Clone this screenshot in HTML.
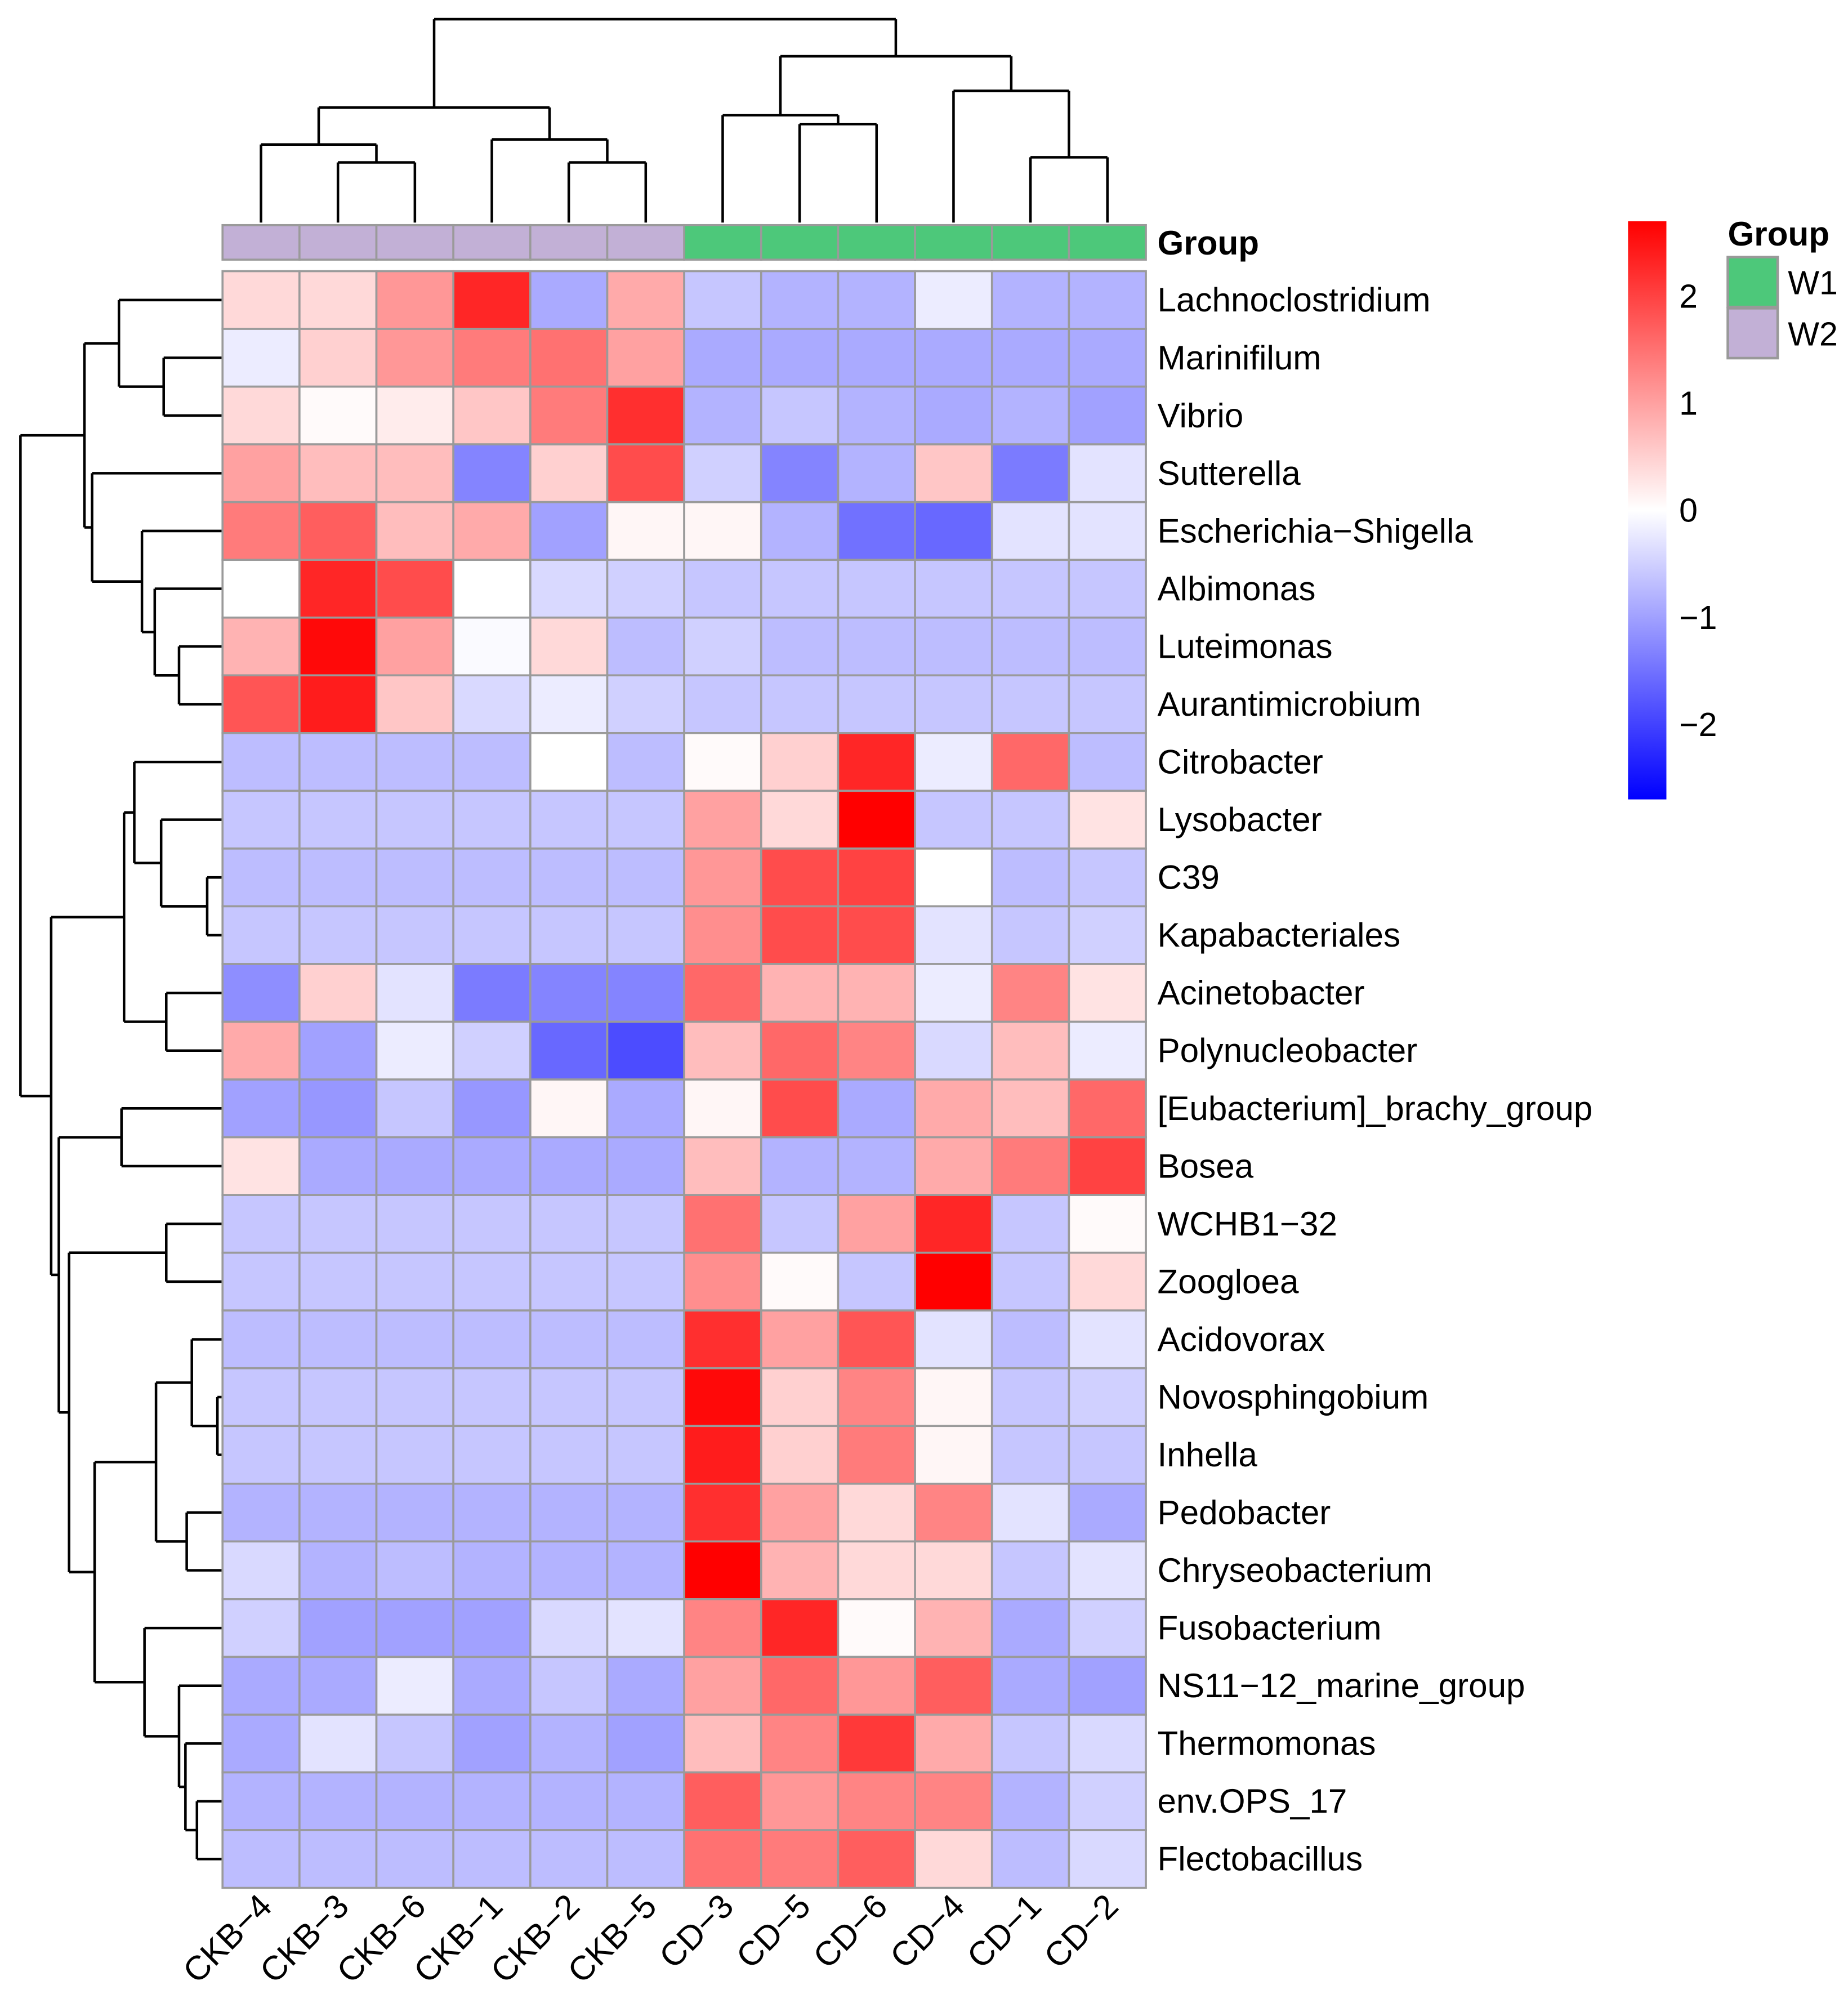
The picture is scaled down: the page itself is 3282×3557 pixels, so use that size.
<!DOCTYPE html>
<html><head><meta charset="utf-8"><style>
html,body{margin:0;padding:0;background:#fff;}
svg{display:block;}
text{font-family:"Liberation Sans",Arial,sans-serif;}
</style></head><body>
<svg id="chart" width="3282" height="3557" viewBox="0 0 1445 1566" preserveAspectRatio="none" xmlns="http://www.w3.org/2000/svg">
<rect x="0" y="0" width="1445" height="1566" fill="#fff"/>
<g id="dendro" stroke="#000" stroke-width="2" fill="none"></g>
<g id="cells"></g>
<g id="annot"></g>
<g id="rowlabels"></g>
<g id="collabels"></g>
<text x="905" y="199" font-size="26.5" font-weight="bold">Group</text>
<defs><linearGradient id="cb" x1="0" y1="1" x2="0" y2="0">
<stop offset="0" stop-color="#0000ff"/><stop offset="0.5" stop-color="#ffffff"/><stop offset="1" stop-color="#ff0000"/></linearGradient></defs>
<rect x="1273" y="173" width="30" height="452" fill="url(#cb)"/>
<g id="cbticks"></g>
<g>
<text x="1351" y="192" font-size="26.5" font-weight="bold">Group</text>
<rect x="1351" y="201" width="39" height="39" fill="#4DC87A" stroke="#999" stroke-width="2"/>
<text x="1398" y="230" font-size="26">W1</text>
<rect x="1351" y="241" width="39" height="39" fill="#C2B0D6" stroke="#999" stroke-width="2"/>
<text x="1398" y="270" font-size="26">W2</text>
</g>
</svg>
<script>
const columns = ["CKB−4","CKB−3","CKB−6","CKB−1","CKB−2","CKB−5","CD−3","CD−5","CD−6","CD−4","CD−1","CD−2"];
const groups = ["W2","W2","W2","W2","W2","W2","W1","W1","W1","W1","W1","W1"];
const rows = ["Lachnoclostridium","Marinifilum","Vibrio","Sutterella","Escherichia−Shigella","Albimonas","Luteimonas","Aurantimicrobium","Citrobacter","Lysobacter","C39","Kapabacteriales","Acinetobacter","Polynucleobacter","[Eubacterium]_brachy_group","Bosea","WCHB1−32","Zoogloea","Acidovorax","Novosphingobium","Inhella","Pedobacter","Chryseobacterium","Fusobacterium","NS11−12_marine_group","Thermomonas","env.OPS_17","Flectobacillus"];
const values = [
[0.4,0.4,1.1,2.3,-0.9,0.9,-0.6,-0.8,-0.8,-0.2,-0.8,-0.8],
[-0.2,0.5,1.1,1.4,1.5,1.0,-0.9,-0.9,-0.9,-0.9,-0.9,-0.9],
[0.4,0.05,0.2,0.6,1.4,2.2,-0.8,-0.6,-0.8,-0.9,-0.8,-1.0],
[1.0,0.7,0.7,-1.3,0.5,1.9,-0.5,-1.3,-0.8,0.6,-1.4,-0.3],
[1.4,1.7,0.7,0.9,-1.0,0.1,0.1,-0.8,-1.5,-1.6,-0.3,-0.3],
[0.0,2.3,1.9,0.0,-0.4,-0.5,-0.6,-0.6,-0.6,-0.6,-0.6,-0.6],
[0.8,2.6,1.0,-0.05,0.4,-0.7,-0.5,-0.7,-0.7,-0.7,-0.7,-0.7],
[1.8,2.4,0.6,-0.4,-0.2,-0.5,-0.6,-0.6,-0.6,-0.6,-0.6,-0.6],
[-0.7,-0.7,-0.7,-0.7,0.0,-0.7,0.05,0.5,2.3,-0.2,1.6,-0.7],
[-0.6,-0.6,-0.6,-0.6,-0.6,-0.6,1.0,0.4,2.7,-0.6,-0.6,0.3],
[-0.7,-0.7,-0.7,-0.7,-0.7,-0.7,1.1,1.9,2.0,0.0,-0.7,-0.6],
[-0.6,-0.6,-0.6,-0.6,-0.6,-0.6,1.2,1.9,1.9,-0.3,-0.6,-0.5],
[-1.2,0.5,-0.3,-1.4,-1.3,-1.3,1.6,0.8,0.8,-0.2,1.3,0.3],
[0.9,-1.0,-0.2,-0.5,-1.6,-1.9,0.7,1.6,1.3,-0.4,0.7,-0.2],
[-1.0,-1.1,-0.6,-1.1,0.1,-0.9,0.1,1.9,-0.9,0.9,0.7,1.6],
[0.3,-0.9,-0.9,-0.9,-0.9,-0.9,0.7,-0.8,-0.8,0.9,1.4,2.0],
[-0.6,-0.6,-0.6,-0.6,-0.6,-0.6,1.5,-0.6,1.0,2.3,-0.6,0.05],
[-0.6,-0.6,-0.6,-0.6,-0.6,-0.6,1.2,0.05,-0.6,2.7,-0.6,0.4],
[-0.7,-0.7,-0.7,-0.7,-0.7,-0.7,2.2,1.0,1.8,-0.3,-0.7,-0.3],
[-0.6,-0.6,-0.6,-0.6,-0.6,-0.6,2.6,0.5,1.3,0.1,-0.6,-0.5],
[-0.6,-0.6,-0.6,-0.6,-0.6,-0.6,2.4,0.5,1.4,0.1,-0.6,-0.6],
[-0.8,-0.8,-0.8,-0.8,-0.8,-0.8,2.2,1.0,0.4,1.3,-0.3,-0.9],
[-0.4,-0.8,-0.7,-0.8,-0.8,-0.8,2.7,0.8,0.4,0.4,-0.6,-0.3],
[-0.5,-1.0,-1.0,-1.0,-0.4,-0.3,1.3,2.3,0.05,0.8,-0.9,-0.5],
[-0.9,-0.9,-0.2,-0.9,-0.6,-0.9,1.0,1.6,1.1,1.7,-0.9,-1.0],
[-0.9,-0.3,-0.6,-1.0,-0.8,-1.0,0.7,1.3,2.1,0.9,-0.6,-0.4],
[-0.8,-0.8,-0.8,-0.8,-0.8,-0.8,1.7,1.1,1.3,1.3,-0.8,-0.5],
[-0.7,-0.7,-0.7,-0.7,-0.7,-0.7,1.5,1.4,1.7,0.4,-0.7,-0.4]];
const scaleTicks = [2,1,0,-1,-2];
// dendrogram merge heights (linkage distance units)
const colTree = {h:159,c:[{h:90,c:[{h:61,c:[0,{h:47,c:[1,2]}]},{h:65,c:[3,{h:47,c:[4,5]}]}]},{h:130,c:[{h:84,c:[6,{h:77,c:[7,8]}]},{h:103,c:[9,{h:51,c:[10,11]}]}]}]};
const rowTree = {h:158,c:[
 {h:108,c:[{h:81,c:[0,{h:46,c:[1,2]}]},{h:102,c:[3,{h:63,c:[4,{h:53,c:[5,{h:34,c:[6,7]}]}]}]}]},
 {h:134,c:[
  {h:77,c:[{h:69,c:[8,{h:48,c:[9,{h:12,c:[10,11]}]}]},{h:44,c:[12,13]}]},
  {h:128,c:[{h:79,c:[14,15]},{h:120,c:[{h:44,c:[16,17]},{h:100,c:[
     {h:52,c:[{h:24,c:[18,{h:4,c:[19,20]}]},{h:28,c:[21,22]}]},
     {h:61,c:[23,{h:34,c:[24,{h:29,c:[25,{h:20,c:[26,27]}]}]}]}]}]}]}]}]};

const NS="http://www.w3.org/2000/svg";
const X0=174,X1=896,Y0=212,Y1=1476;
const cw=(X1-X0)/columns.length, rh=(Y1-Y0)/rows.length;
const vmax=2.7;
const xScale=i=>X0+i*cw, yScale=j=>Y0+j*rh;
const cbY=v=>399-v*(452/(2*vmax));
function color(v){
  let t=Math.max(-1,Math.min(1,v/vmax));
  if(t>=0){const g=Math.round(255*(1-t));return `rgb(255,${g},${g})`;}
  const g=Math.round(255*(1+t));return `rgb(${g},${g},255)`;
}
function mk(tag,attrs,parent){const e=document.createElementNS(NS,tag);for(const k in attrs)e.setAttribute(k,attrs[k]);parent.appendChild(e);return e;}
const cells=document.getElementById('cells');
rows.forEach((r,j)=>{columns.forEach((c,i)=>{
  const el=mk('rect',{x:xScale(i),y:yScale(j),width:cw,height:rh,fill:color(values[j][i]),stroke:'#9a9a9a','stroke-width':1.6},cells);
  
  
});});
const annot=document.getElementById('annot');
groups.forEach((g,i)=>{
  const el=mk('rect',{x:xScale(i),y:176,width:cw,height:27,fill:g==='W1'?'#4DC87A':'#C2B0D6',stroke:'#9a9a9a','stroke-width':1.6},annot);
  
  
});
const rl=document.getElementById('rowlabels');
rows.forEach((r,j)=>{
  const t=mk('text',{x:905,y:yScale(j)+rh/2+9,'font-size':26.5},rl);t.textContent=r;
  
  
});
const cl=document.getElementById('collabels');
columns.forEach((c,i)=>{
  const cx=xScale(i)+cw/2+10, cy=1492;
  const t=mk('text',{x:cx,y:cy,'font-size':26.5,'text-anchor':'end',transform:`rotate(-45 ${cx} ${cy})`},cl);t.textContent=c;
  
  
});
const cbt=document.getElementById('cbticks');
scaleTicks.forEach(v=>{
  const t=mk('text',{x:1313,y:cbY(v)+9,'font-size':26},cbt);t.textContent=v<0?'−'+(-v):String(v);
  
  
});
const dg=document.getElementById('dendro');
function line(x1,y1,x2,y2){const l=mk('line',{x1,y1,x2,y2},dg);
  
  }
function drawCol(n){
  if(typeof n==='number') return {p:xScale(n)+cw/2,h:0};
  const a=drawCol(n.c[0]),b=drawCol(n.c[1]);const y=174-n.h;
  line(a.p,174-a.h,a.p,y);line(b.p,174-b.h,b.p,y);line(a.p,y,b.p,y);
  return {p:(a.p+b.p)/2,h:n.h};
}
drawCol(colTree);
function drawRow(n){
  if(typeof n==='number') return {p:yScale(n)+rh/2,h:0};
  const a=drawRow(n.c[0]),b=drawRow(n.c[1]);const x=174-n.h;
  line(174-a.h,a.p,x,a.p);line(174-b.h,b.p,x,b.p);line(x,a.p,x,b.p);
  return {p:(a.p+b.p)/2,h:n.h};
}
drawRow(rowTree);
</script>
</body></html>
